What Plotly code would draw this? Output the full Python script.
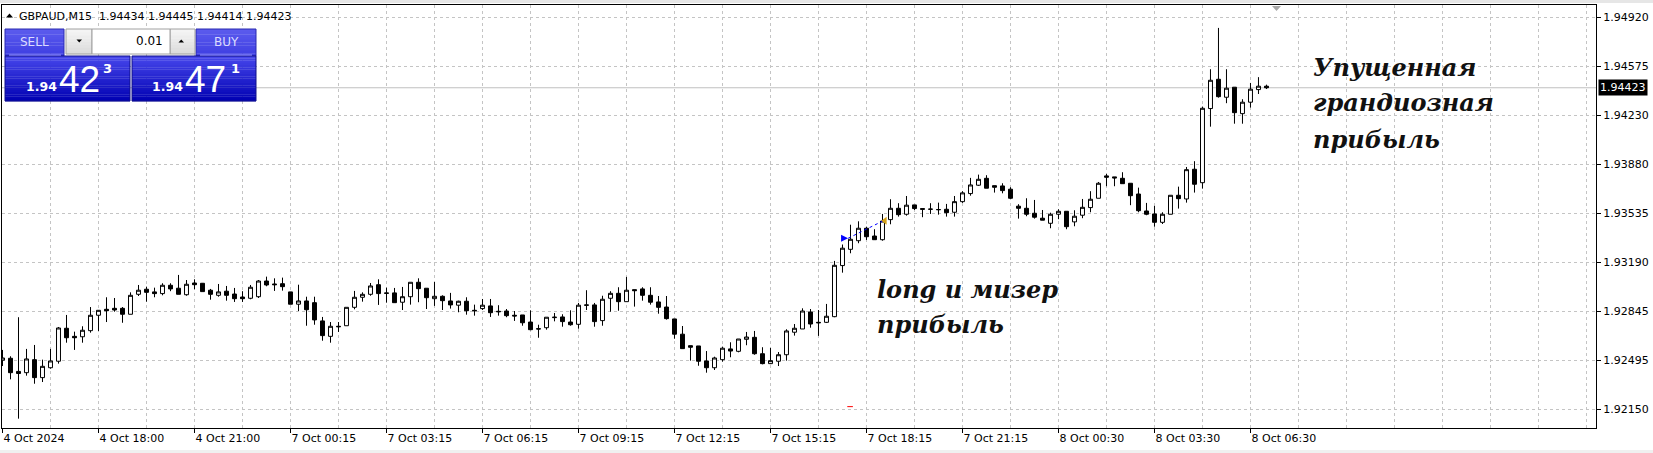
import plotly.graph_objects as go

# ---------------- data (GBPAUD M15) ----------------
open_ = [1.92497, 1.92511, 1.92418, 1.92409, 1.92501, 1.92374, 1.92444, 1.92490, 1.92723, 1.92666,
 1.92663, 1.92706, 1.92815, 1.92857, 1.92864, 1.92864, 1.92822, 1.92963, 1.92999, 1.92980,
 1.92968, 1.93027, 1.93006, 1.92960, 1.93043, 1.93041, 1.92992, 1.92956, 1.92985, 1.92965,
 1.92944, 1.92935, 1.92946, 1.93057, 1.93036, 1.93038, 1.92980, 1.92893, 1.92916, 1.92904,
 1.92775, 1.92666, 1.92737, 1.92741, 1.92871, 1.92942, 1.92963, 1.93031, 1.92973, 1.92973,
 1.92907, 1.92946, 1.93048, 1.93006, 1.92932, 1.92949, 1.92916, 1.92886, 1.92914, 1.92850,
 1.92862, 1.92881, 1.92843, 1.92845, 1.92815, 1.92817, 1.92767, 1.92720, 1.92727, 1.92798,
 1.92803, 1.92767, 1.92751, 1.92888, 1.92888, 1.92777, 1.92935, 1.92970, 1.92911, 1.92996,
 1.93001, 1.92956, 1.92909, 1.92873, 1.92789, 1.92681, 1.92600, 1.92598, 1.92492, 1.92444,
 1.92501, 1.92577, 1.92560, 1.92645, 1.92659, 1.92543, 1.92473, 1.92490, 1.92536, 1.92695,
 1.92718, 1.92838, 1.92765, 1.92765, 1.92805, 1.93166, 1.93281, 1.93342, 1.93430, 1.93375,
 1.93349, 1.93491, 1.93571, 1.93529, 1.93595, 1.93569, 1.93564, 1.93561, 1.93564, 1.93543,
 1.93618, 1.93675, 1.93734, 1.93783, 1.93731, 1.93729, 1.93706, 1.93586, 1.93571, 1.93536,
 1.93501, 1.93465, 1.93529, 1.93550, 1.93475, 1.93522, 1.93576, 1.93642, 1.93800, 1.93793,
 1.93783, 1.93748, 1.93672, 1.93552, 1.93531, 1.93472, 1.93529, 1.93663, 1.93637, 1.93847,
 1.93752, 1.94276, 1.94483, 1.94356, 1.94427, 1.94240, 1.94321, 1.94410, 1.94434]

high = [1.92570, 1.92525, 1.92801, 1.92577, 1.92605, 1.92501, 1.92577, 1.92732, 1.92817, 1.92699,
 1.92737, 1.92873, 1.92852, 1.92942, 1.92937, 1.92873, 1.92977, 1.93029, 1.93017, 1.93010,
 1.93041, 1.93041, 1.93100, 1.93064, 1.93069, 1.93043, 1.93001, 1.93036, 1.93022, 1.93008,
 1.92985, 1.93029, 1.93064, 1.93088, 1.93076, 1.93081, 1.92980, 1.93031, 1.92946, 1.92946,
 1.92803, 1.92767, 1.92767, 1.92871, 1.92987, 1.92977, 1.93043, 1.93069, 1.93010, 1.93008,
 1.93015, 1.93048, 1.93076, 1.93006, 1.93050, 1.92956, 1.92973, 1.92918, 1.92942, 1.92890,
 1.92930, 1.92930, 1.92886, 1.92859, 1.92845, 1.92817, 1.92850, 1.92748, 1.92801, 1.92831,
 1.92822, 1.92850, 1.92902, 1.92992, 1.92902, 1.92953, 1.92985, 1.93013, 1.93086, 1.92996,
 1.93013, 1.93013, 1.92951, 1.92951, 1.92789, 1.92739, 1.92600, 1.92598, 1.92562, 1.92522,
 1.92593, 1.92624, 1.92647, 1.92697, 1.92704, 1.92589, 1.92584, 1.92555, 1.92716, 1.92753,
 1.92864, 1.92859, 1.92852, 1.92895, 1.93199, 1.93315, 1.93455, 1.93479, 1.93441, 1.93423,
 1.93531, 1.93635, 1.93607, 1.93658, 1.93595, 1.93569, 1.93607, 1.93611, 1.93602, 1.93658,
 1.93692, 1.93786, 1.93809, 1.93805, 1.93731, 1.93748, 1.93720, 1.93600, 1.93642, 1.93630,
 1.93559, 1.93540, 1.93564, 1.93550, 1.93557, 1.93637, 1.93692, 1.93757, 1.93814, 1.93793,
 1.93826, 1.93748, 1.93717, 1.93609, 1.93588, 1.93543, 1.93663, 1.93724, 1.93863, 1.93904,
 1.94290, 1.94554, 1.94846, 1.94554, 1.94427, 1.94342, 1.94457, 1.94498, 1.94445]

low = [1.92456, 1.92362, 1.92084, 1.92388, 1.92331, 1.92343, 1.92437, 1.92473, 1.92621, 1.92570,
 1.92621, 1.92692, 1.92704, 1.92767, 1.92840, 1.92762, 1.92822, 1.92951, 1.92911, 1.92942,
 1.92956, 1.92985, 1.92963, 1.92953, 1.92999, 1.92982, 1.92925, 1.92946, 1.92918, 1.92909,
 1.92909, 1.92928, 1.92937, 1.93020, 1.92987, 1.92989, 1.92893, 1.92845, 1.92741, 1.92748,
 1.92635, 1.92621, 1.92697, 1.92741, 1.92857, 1.92911, 1.92953, 1.92888, 1.92904, 1.92904,
 1.92852, 1.92890, 1.92907, 1.92859, 1.92881, 1.92852, 1.92862, 1.92836, 1.92819, 1.92812,
 1.92852, 1.92803, 1.92812, 1.92801, 1.92775, 1.92741, 1.92709, 1.92656, 1.92713, 1.92772,
 1.92734, 1.92741, 1.92720, 1.92852, 1.92734, 1.92741, 1.92840, 1.92847, 1.92911, 1.92876,
 1.92918, 1.92890, 1.92826, 1.92784, 1.92649, 1.92579, 1.92494, 1.92458, 1.92409, 1.92428,
 1.92487, 1.92518, 1.92553, 1.92603, 1.92536, 1.92468, 1.92470, 1.92456, 1.92494, 1.92671,
 1.92718, 1.92727, 1.92669, 1.92760, 1.92801, 1.93116, 1.93253, 1.93324, 1.93347, 1.93347,
 1.93342, 1.93458, 1.93512, 1.93519, 1.93559, 1.93508, 1.93531, 1.93526, 1.93512, 1.93512,
 1.93609, 1.93660, 1.93729, 1.93713, 1.93682, 1.93677, 1.93637, 1.93498, 1.93515, 1.93498,
 1.93487, 1.93430, 1.93494, 1.93423, 1.93444, 1.93501, 1.93543, 1.93642, 1.93727, 1.93727,
 1.93745, 1.93593, 1.93543, 1.93522, 1.93441, 1.93460, 1.93529, 1.93569, 1.93611, 1.93682,
 1.93710, 1.94148, 1.94353, 1.94314, 1.94169, 1.94169, 1.94283, 1.94379, 1.94414]

close = [1.92513, 1.92409, 1.92403, 1.92506, 1.92374, 1.92454, 1.92492, 1.92725, 1.92656, 1.92656,
 1.92709, 1.92815, 1.92850, 1.92847, 1.92852, 1.92822, 1.92956, 1.92992, 1.92977, 1.92968,
 1.93027, 1.93001, 1.92963, 1.93034, 1.93031, 1.92982, 1.92963, 1.92980, 1.92956, 1.92932,
 1.92932, 1.93013, 1.93057, 1.93029, 1.93031, 1.93017, 1.92893, 1.92916, 1.92854, 1.92782,
 1.92671, 1.92737, 1.92734, 1.92871, 1.92942, 1.92963, 1.93022, 1.92968, 1.92970, 1.92904,
 1.92946, 1.93048, 1.93003, 1.92939, 1.92949, 1.92918, 1.92888, 1.92914, 1.92847, 1.92847,
 1.92886, 1.92833, 1.92840, 1.92812, 1.92810, 1.92762, 1.92713, 1.92718, 1.92801, 1.92801,
 1.92770, 1.92748, 1.92886, 1.92886, 1.92770, 1.92928, 1.92970, 1.92911, 1.92992, 1.92989,
 1.92956, 1.92907, 1.92871, 1.92791, 1.92681, 1.92579, 1.92589, 1.92490, 1.92444, 1.92513,
 1.92582, 1.92562, 1.92647, 1.92661, 1.92543, 1.92473, 1.92494, 1.92536, 1.92704, 1.92723,
 1.92845, 1.92753, 1.92762, 1.92808, 1.93168, 1.93289, 1.93352, 1.93430, 1.93370, 1.93349,
 1.93481, 1.93571, 1.93526, 1.93593, 1.93569, 1.93564, 1.93565, 1.93562, 1.93540, 1.93618,
 1.93680, 1.93736, 1.93776, 1.93713, 1.93720, 1.93696, 1.93642, 1.93571, 1.93529, 1.93508,
 1.93487, 1.93529, 1.93550, 1.93441, 1.93515, 1.93578, 1.93635, 1.93748, 1.93791, 1.93786,
 1.93745, 1.93660, 1.93554, 1.93529, 1.93472, 1.93529, 1.93663, 1.93639, 1.93844, 1.93741,
 1.94278, 1.94476, 1.94360, 1.94420, 1.94247, 1.94321, 1.94413, 1.94434, 1.94423]

bars = list(range(len(close)))

time_labels = ["4 Oct 2024", "4 Oct 18:00", "4 Oct 21:00", "7 Oct 00:15", "7 Oct 03:15",
               "7 Oct 06:15", "7 Oct 09:15", "7 Oct 12:15", "7 Oct 15:15", "7 Oct 18:15",
               "7 Oct 21:15", "8 Oct 00:30", "8 Oct 03:30", "8 Oct 06:30"]
label_step = 12          # bars between time labels
grid_step = 6            # bars between vertical grid lines
price_ticks = [1.94920, 1.94575, 1.94230, 1.93880, 1.93535, 1.93190, 1.92845, 1.92495, 1.92150]
price_tick_text = ["1.94920", "1.94575", "1.94230", "1.93880", "1.93535", "1.93190", "1.92845", "1.92495", "1.92150"]

symbol = "GBPAUD,M15"
bid_price = 1.94423
buy_price = 1.94471
trade_open_bar, trade_open_price = 105.7, 1.93359
trade_close_bar, trade_close_price = 110.1, 1.93483
sl_bars = [105.6, 106.3]
sl_price = 1.92169

# ---------------- geometry ----------------
W, H = 1653, 453
ML, MR, MT, MB = 2, 57, 5, 25
PX0, PX1 = ML, W - MR
PY0, PY1 = MT, H - MB
PW, PH = PX1 - PX0, PY1 - PY0


def px(x):
    return (x - PX0) / PW


def py(y):
    return (PY1 - y) / PH


fig = go.Figure()

fig.add_trace(go.Candlestick(
    x=bars, open=open_, high=high, low=low, close=close,
    increasing=dict(line=dict(color="black", width=1), fillcolor="white"),
    decreasing=dict(line=dict(color="black", width=1), fillcolor="black"),
    whiskerwidth=0, hoverinfo="skip", showlegend=False,
))

# trade line and markers
fig.add_trace(go.Scatter(
    x=[trade_open_bar, trade_close_bar], y=[trade_open_price, trade_close_price],
    mode="lines", line=dict(color="blue", width=1, dash="dot"),
    hoverinfo="skip", showlegend=False))
fig.add_trace(go.Scatter(
    x=[trade_open_bar], y=[trade_open_price], mode="markers",
    marker=dict(symbol="arrow-right", size=7, color="blue"),
    hoverinfo="skip", showlegend=False))
fig.add_trace(go.Scatter(
    x=[trade_close_bar + 0.2], y=[trade_close_price], mode="markers",
    marker=dict(symbol="triangle-left", size=7, color="#d4a017"),
    hoverinfo="skip", showlegend=False))
fig.add_trace(go.Scatter(
    x=sl_bars, y=[sl_price, sl_price], mode="lines",
    line=dict(color="red", width=1), hoverinfo="skip", showlegend=False))

shapes = []
annotations = []

# current bid line
shapes.append(dict(type="line", xref="paper", yref="y", x0=0, x1=1, y0=bid_price, y1=bid_price,
                   line=dict(color="#c0c0c0", width=1), layer="below"))

# top / bottom window strips
shapes.append(dict(type="rect", xref="paper", yref="paper", x0=px(0), x1=px(W), y0=py(0), y1=py(3),
                   fillcolor="#e6e6e6", line=dict(width=0)))
shapes.append(dict(type="rect", xref="paper", yref="paper", x0=px(0), x1=px(W), y0=py(450), y1=py(453),
                   fillcolor="#f0f0f0", line=dict(width=0)))

# chart shift marker
shapes.append(dict(type="path", xref="paper", yref="paper",
                   path=f"M {px(1272)},{py(6)} L {px(1281)},{py(6)} L {px(1276.5)},{py(11)} Z",
                   fillcolor="#a8a8a8", line=dict(width=0)))

# header triangle
shapes.append(dict(type="path", xref="paper", yref="paper",
                   path=f"M {px(6)},{py(17.5)} L {px(13)},{py(17.5)} L {px(9.5)},{py(13.5)} Z",
                   fillcolor="black", line=dict(width=0)))


def lerp(c1, c2, t):
    return tuple(int(round(a + (b - a) * t)) for a, b in zip(c1, c2))


def grad_rect(x0, y0, x1, y1, ctop, cbot, n=18, border=None):
    h = (y1 - y0) / n
    for k in range(n):
        c = lerp(ctop, cbot, (k + 0.5) / n)
        shapes.append(dict(type="rect", xref="paper", yref="paper",
                           x0=px(x0), x1=px(x1), y0=py(y0 + k * h), y1=py(y0 + (k + 1) * h + 0.3),
                           fillcolor=f"rgb{c}", line=dict(width=0)))
    if border:
        shapes.append(dict(type="rect", xref="paper", yref="paper",
                           x0=px(x0), x1=px(x1), y0=py(y0), y1=py(y1),
                           fillcolor="rgba(0,0,0,0)", line=dict(color=border, width=1)))


# one-click trading panel
tab_top, tab_bot = (92, 92, 238), (62, 62, 226)
box_top, box_bot = (72, 72, 236), (0, 0, 178)
grad_rect(5, 29, 64, 56, tab_top, tab_bot, n=10, border="#2a2ab0")
grad_rect(196, 29, 256, 56, tab_top, tab_bot, n=10, border="#2a2ab0")
grad_rect(5, 56, 130, 101, box_top, box_bot, n=20, border="#10108a")
grad_rect(132, 56, 256, 101, box_top, box_bot, n=20, border="#10108a")
for xa, xb in [(9, 61), (200, 252)]:
    shapes.append(dict(type="line", xref="paper", yref="paper", x0=px(xa), x1=px(xb),
                       y0=py(55), y1=py(55), line=dict(color="#9a9aff", width=1)))
# lot box
grad_rect(66, 29, 92, 54, (246, 246, 246), (218, 218, 218), n=8, border="#a0a0a0")
grad_rect(170, 29, 195, 54, (246, 246, 246), (218, 218, 218), n=8, border="#a0a0a0")
shapes.append(dict(type="rect", xref="paper", yref="paper", x0=px(92), x1=px(170), y0=py(29), y1=py(54),
                   fillcolor="white", line=dict(color="#a0a0a0", width=1)))
shapes.append(dict(type="path", xref="paper", yref="paper",
                   path=f"M {px(76.5)},{py(39.5)} L {px(82)},{py(39.5)} L {px(79.25)},{py(42.5)} Z",
                   fillcolor="black", line=dict(width=0)))
shapes.append(dict(type="path", xref="paper", yref="paper",
                   path=f"M {px(178.5)},{py(42.5)} L {px(184)},{py(42.5)} L {px(181.25)},{py(39.5)} Z",
                   fillcolor="black", line=dict(width=0)))

SANS = "DejaVu Sans"


def txt(x, y, s, size, color="black", family=SANS, xanchor="left", weight="normal", style="normal"):
    annotations.append(dict(xref="paper", yref="paper", x=px(x), y=py(y), text=s, showarrow=False,
                            xanchor=xanchor, yanchor="middle", borderpad=0,
                            font=dict(family=family, size=size, color=color, weight=weight, style=style)))


txt(18, 16, f"{symbol}\u00a0\u00a0{open_[-1]:.5f} {high[-1]:.5f} {low[-1]:.5f} {close[-1]:.5f}", 11)
txt(34.5, 42, "SELL", 12, color="#dcdcff", xanchor="center")
txt(226, 42, "BUY", 12, color="#dcdcff", xanchor="center")
txt(164, 41.5, "0.01", 12, xanchor="right")

for x_small, x_big, x_sup, p in [(25, 58, 102, bid_price), (151, 184, 230, buy_price)]:
    s = f"{p:.5f}"
    txt(x_small, 87, s[:4], 12.5, color="white", weight="bold")
    txt(x_big, 79, s[4:6], 37, color="white", family="Liberation Sans")
    txt(x_sup, 68, s[6], 13, color="white", weight="bold")

# bid label on price axis
annotations.append(dict(xref="paper", yref="y", x=px(1598), y=bid_price, text=f"{bid_price:.5f}",
                        showarrow=False, xanchor="left", yanchor="middle", bgcolor="black",
                        borderpad=1, font=dict(family=SANS, size=11, color="white")))

# big comments
SERIF = "DejaVu Serif"
for (x, y, s) in [(1312, 67.5, "Упущенная"), (1312, 102.5, "грандиозная"), (1312, 139, "прибыль"),
                  (876, 289, "long и мизер"), (876, 324, "прибыль")]:
    txt(x, y, s, 24, color="#111111", family=SERIF, weight="bold", style="italic")

grid_col = "#c4c4c4"
fig.update_layout(
    width=W, height=H,
    margin=dict(l=ML, r=MR, t=MT, b=MB, pad=0),
    paper_bgcolor="white", plot_bgcolor="white",
    boxgap=0.25, boxgroupgap=0.34,
    showlegend=False,
    shapes=shapes, annotations=annotations,
    xaxis=dict(
        range=[-0.0625, 199.19], rangeslider=dict(visible=False),
        tickmode="array", tickvals=[i * label_step for i in range(len(time_labels))], ticktext=time_labels,
        ticks="outside", ticklen=4, tickcolor="black", tickwidth=1,
        ticklabelposition="outside right",
        tickfont=dict(family=SANS, size=11, color="black"),
        showgrid=True, gridcolor=grid_col, griddash="3px,3px", gridwidth=1,
        minor=dict(tickmode="array", tickvals=list(range(0, 200, grid_step)), showgrid=True,
                   gridcolor=grid_col, griddash="3px,3px", gridwidth=1, ticks=""),
        showline=True, linecolor="black", linewidth=1, mirror=True, zeroline=False,
        fixedrange=True,
    ),
    yaxis=dict(
        range=[1.92018, 1.95008], side="right",
        tickmode="array", tickvals=price_ticks, ticktext=price_tick_text,
        ticks="outside", ticklen=4, tickcolor="black", tickwidth=1,
        tickfont=dict(family=SANS, size=11, color="black"),
        showgrid=True, gridcolor=grid_col, griddash="3px,3px", gridwidth=1,
        showline=True, linecolor="black", linewidth=1, mirror=True, zeroline=False,
        fixedrange=True,
    ),
)

fig.write_html("out.html", config={"displayModeBar": False},
               post_script="document.body.style.margin='0';")
